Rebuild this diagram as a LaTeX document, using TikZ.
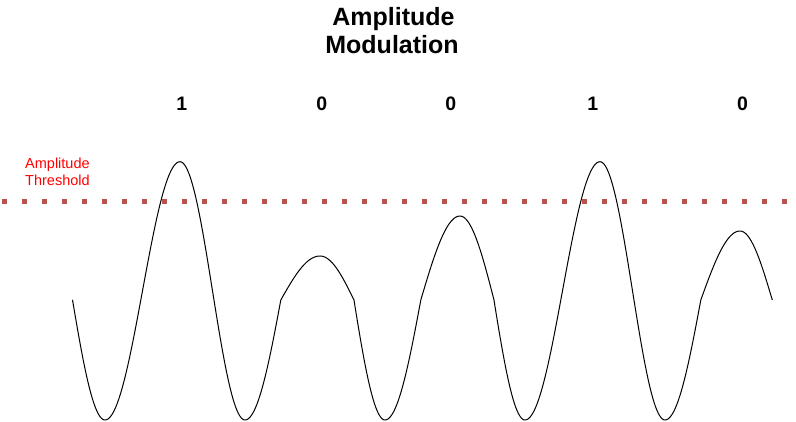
\documentclass[tikz,border=0pt]{standalone}
\usepackage{fontspec}
\setmainfont{Liberation Sans}
\definecolor{thresh}{HTML}{B85450}
\begin{document}
\begin{tikzpicture}[x=1pt,y=-1pt,
  wave/.style={line width=1pt, black, line join=round},
  threshline/.style={line width=5pt, thresh, dash pattern=on 5pt off 15pt},
  titletext/.style={font=\bfseries\fontsize{25}{29}\selectfont, anchor=base, inner sep=0pt},
  bittext/.style={font=\bfseries\fontsize{19.5}{23}\selectfont, anchor=base, inner sep=0pt},
  redtext/.style={font=\fontsize{14.5}{17.4}\selectfont, text=red, anchor=base west, inner sep=0pt}]
\useasboundingbox (0,0) rectangle (796,422);

% title
\node[titletext] (title1) at (393.5,26) {Amplitude};
\node[titletext] (title2) at (392,54) {Modulation};

% bit labels
\node[bittext] (b1) at (181.7,111) {1};
\node[bittext] (b2) at (321.8,111) {0};
\node[bittext] (b3) at (450.8,111) {0};
\node[bittext] (b4) at (592.8,111) {1};
\node[bittext] (b5) at (742.5,111) {0};

% threshold label
\node[redtext] (th1) at (25,168.3) {Amplitude};
\node[redtext] (th2) at (25,185.7) {Threshold};

% threshold line
\draw[threshline] (2,201.5) -- (792,201.5);

% wave
\draw[wave]
  plot[domain=72.5:105, samples=30] (\x, {290.85 - 129.15*cos(180*(\x-37)/68)})
  -- plot[domain=105:180, samples=50] (\x, {290.85 + 129.15*cos(180*(\x-105)/75)})
  -- plot[domain=180:245, samples=50] (\x, {290.85 - 129.15*cos(180*(\x-180)/65)})
  -- plot[domain=245:280.8, samples=30] (\x, {290.85 + 129.15*cos(180*(\x-245)/75)})
  -- plot[domain=280.8:320, samples=30] (\x, {300 - 44*cos(90*(\x-320)/39.2)})
  -- plot[domain=320:354, samples=30] (\x, {300 - 44*cos(90*(\x-320)/34)})
  -- plot[domain=354:385, samples=30] (\x, {290.85 - 129.15*cos(180*(\x-320)/65)})
  -- plot[domain=385:420.8, samples=30] (\x, {290.85 + 129.15*cos(180*(\x-385)/75)})
  -- plot[domain=420.8:460, samples=30] (\x, {300 - 84*cos(90*(\x-460)/39.2)})
  -- plot[domain=460:494, samples=30] (\x, {300 - 84*cos(90*(\x-460)/34)})
  -- plot[domain=494:525, samples=30] (\x, {290.85 - 129.15*cos(180*(\x-460)/65)})
  -- plot[domain=525:600, samples=50] (\x, {290.85 + 129.15*cos(180*(\x-525)/75)})
  -- plot[domain=600:665, samples=50] (\x, {290.85 - 129.15*cos(180*(\x-600)/65)})
  -- plot[domain=665:700.8, samples=30] (\x, {290.85 + 129.15*cos(180*(\x-665)/75)})
  -- plot[domain=700.8:740, samples=30] (\x, {300 - 69*cos(90*(\x-740)/39.2)})
  -- plot[domain=740:772.3, samples=30] (\x, {300 - 69*cos(90*(\x-740)/32.3)});
\end{tikzpicture}
\end{document}
